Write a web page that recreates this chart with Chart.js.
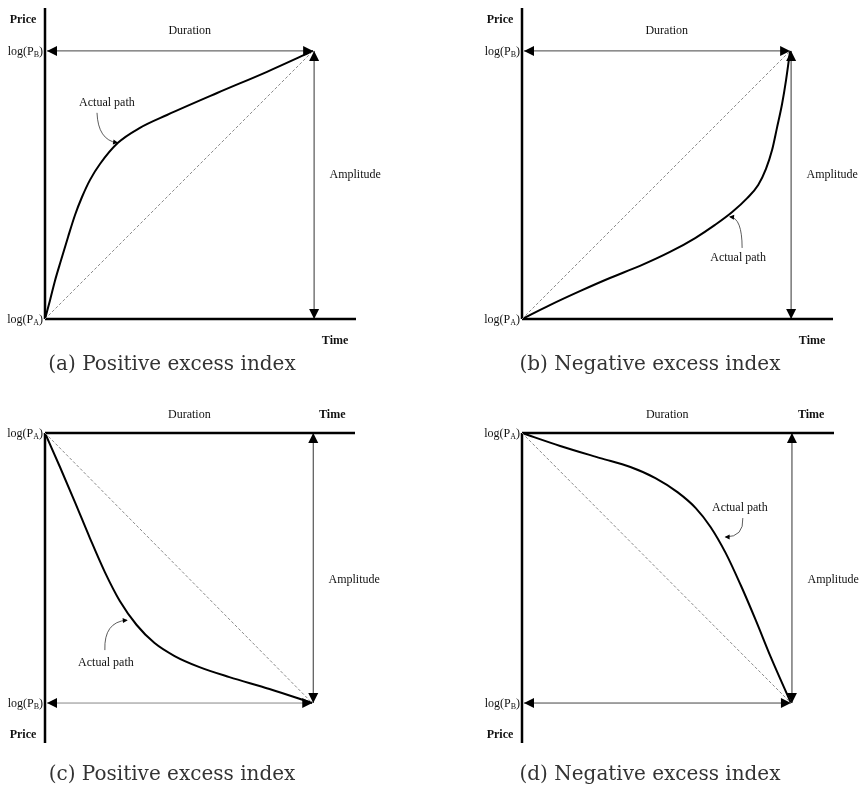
<!DOCTYPE html>
<html>
<head>
<meta charset="utf-8">
<script src="https://cdn.jsdelivr.net/npm/chart.js@4.4.1/dist/chart.umd.min.js"></script>
<style>
  html, body { margin: 0; padding: 0; background: #fff; }
  #wrap { position: relative; width: 864px; height: 787px; overflow: hidden; }
  .panel { position: absolute; }
  .caption {
    position: absolute; width: 340px; text-align: center;
    font-family: "DejaVu Serif", serif; font-size: 20px; line-height: 24px; color: #333;
  }
</style>
</head>
<body>
<div id="wrap"></div>
<script>
// Time (fraction of the duration) and log-price (fraction of the amplitude) along each actual path
const timeA  = [0, 0.019, 0.037, 0.06, 0.086, 0.112, 0.138, 0.168, 0.205, 0.272, 0.354, 0.455, 0.642, 0.828, 1];
const priceA = [0, 0.071, 0.142, 0.22, 0.306, 0.388, 0.455, 0.519, 0.578, 0.657, 0.713, 0.761, 0.843, 0.922, 1];

const timeB  = [0, 0.104, 0.216, 0.328, 0.44, 0.552, 0.646, 0.72, 0.784, 0.84, 0.881, 0.91, 0.933, 0.951, 0.97, 0.985, 1];
const priceB = [0, 0.052, 0.104, 0.153, 0.198, 0.25, 0.302, 0.351, 0.399, 0.451, 0.5, 0.56, 0.631, 0.713, 0.802, 0.892, 1];

const timeC  = [0, 0.056, 0.112, 0.168, 0.224, 0.28, 0.343, 0.41, 0.485, 0.578, 0.69, 0.84, 1];
const priceC = [1, 0.874, 0.744, 0.611, 0.485, 0.378, 0.289, 0.222, 0.174, 0.133, 0.096, 0.052, 0];

const timeD  = [0, 0.142, 0.291, 0.403, 0.496, 0.578, 0.646, 0.701, 0.757, 0.813, 0.869, 0.925, 1];
const priceD = [1, 0.952, 0.907, 0.874, 0.833, 0.781, 0.722, 0.652, 0.556, 0.437, 0.307, 0.17, 0];

// Text
const captions = ["(a) Positive excess index", "(b) Negative excess index",
                  "(c) Positive excess index", "(d) Negative excess index"];
const axisNames = { price: "Price", time: "Time" };
const spanNames = { duration: "Duration", amplitude: "Amplitude", path: "Actual path" };

// Layout of the four panels
const panels = [
  { time: timeA, price: priceA, caption: captions[0], dir: "up",
    left: 0, top: 0, w: 432, h: 390, pad: { left: 45, right: 76, top: 8, bottom: 71 },
    ymin: 0, ymax: 1.16, capX: 172, capY: 363, durColor: "#444",
    note: { text: [0.231, 0.806], from: [0.194, 0.769], ctrl: [0.198, 0.668], tip: [0.269, 0.657] } },
  { time: timeB, price: priceB, caption: captions[1], dir: "up",
    left: 432, top: 0, w: 432, h: 390, pad: { left: 90, right: 31, top: 8, bottom: 71 },
    ymin: 0, ymax: 1.16, capX: 218, capY: 363, durColor: "#444",
    note: { text: [0.806, 0.228], from: [0.821, 0.265], ctrl: [0.821, 0.377], tip: [0.776, 0.381] } },
  { time: timeC, price: priceC, caption: captions[2], dir: "down",
    left: 0, top: 390, w: 432, h: 397, pad: { left: 45, right: 77, top: 43, bottom: 44 },
    ymin: -0.148, ymax: 1, capX: 172, capY: 383, durColor: "#888",
    note: { text: [0.228, 0.148], from: [0.224, 0.196], ctrl: [0.22, 0.3], tip: [0.306, 0.307] } },
  { time: timeD, price: priceD, caption: captions[3], dir: "down",
    left: 432, top: 390, w: 432, h: 397, pad: { left: 90, right: 30, top: 43, bottom: 44 },
    ymin: -0.148, ymax: 1, capX: 218, capY: 383, durColor: "#444",
    note: { text: [0.81, 0.722], from: [0.821, 0.685], ctrl: [0.825, 0.615], tip: [0.757, 0.615] } }
];

const SERIF = '"Liberation Serif", "Times New Roman", serif';

function head(ctx, x, y, ang, len, half) {
  ctx.save();
  ctx.translate(x, y);
  ctx.rotate(ang);
  ctx.beginPath();
  ctx.moveTo(0, 0);
  ctx.lineTo(-len, -half);
  ctx.lineTo(-len, half);
  ctx.closePath();
  ctx.fill();
  ctx.restore();
}

function seg(ctx, x1, y1, x2, y2) {
  ctx.beginPath();
  ctx.moveTo(x1, y1);
  ctx.lineTo(x2, y2);
  ctx.stroke();
}

// "log(P" + subscript + ")" right-aligned at xr, centred on y
function logLabel(ctx, sub, xr, y) {
  ctx.save();
  ctx.textBaseline = "alphabetic";
  ctx.textAlign = "left";
  ctx.font = "12px " + SERIF;
  const a = ctx.measureText("log(P").width;
  const c = ctx.measureText(")").width;
  ctx.font = "8px " + SERIF;
  const b = ctx.measureText(sub).width;
  let x = xr - (a + b + c);
  const base = y + 4;
  ctx.font = "12px " + SERIF;
  ctx.fillText("log(P", x, base);
  ctx.font = "8px " + SERIF;
  ctx.fillText(sub, x + a, base + 2);
  ctx.font = "12px " + SERIF;
  ctx.fillText(")", x + a + b, base);
  ctx.restore();
}

const diagram = {
  id: "excessDiagram",
  beforeDatasetsDraw(chart, args, o) {
    const ctx = chart.ctx, area = chart.chartArea;
    const X = chart.scales.x, Y = chart.scales.y;
    const x0 = X.getPixelForValue(0), x1 = X.getPixelForValue(1);
    const yA = Y.getPixelForValue(o.levelA), yB = Y.getPixelForValue(o.levelB);
    ctx.save();
    ctx.lineWidth = 1;
    // Duration span
    ctx.strokeStyle = o.durColor;
    seg(ctx, x0 + 2, yB, x1 - 4, yB);
    // Amplitude span
    ctx.strokeStyle = "#333";
    seg(ctx, x1 + 1, yA, x1 + 1, yB);
    // Price and time axes
    ctx.strokeStyle = "#000";
    ctx.lineWidth = 2.5;
    seg(ctx, x0, area.top, x0, area.bottom);
    seg(ctx, x0, yA, area.right, yA);
    ctx.restore();
  },
  afterDatasetsDraw(chart, args, o) {
    const ctx = chart.ctx;
    const X = chart.scales.x, Y = chart.scales.y;
    const P = (t, p) => [X.getPixelForValue(t), Y.getPixelForValue(p)];
    const x0 = X.getPixelForValue(0), x1 = X.getPixelForValue(1);
    const yA = Y.getPixelForValue(o.levelA), yB = Y.getPixelForValue(o.levelB);
    const up = yB < yA;
    ctx.save();
    ctx.fillStyle = "#000";
    // arrow heads
    head(ctx, x0 + 2, yB, Math.PI, 10, 5);
    head(ctx, x1, yB, 0, 10, 5);
    head(ctx, x1 + 1, yB, up ? -Math.PI / 2 : Math.PI / 2, 10, 5);
    head(ctx, x1 + 1, yA, up ? Math.PI / 2 : -Math.PI / 2, 10, 5);

    // text
    ctx.fillStyle = "#111";
    ctx.textAlign = "center";
    ctx.textBaseline = "middle";
    ctx.font = "12px " + SERIF;
    const durY = up ? yB - 20 : yA - 18;
    ctx.fillText(spanNames.duration, X.getPixelForValue(0.54), durY);
    const ampY = up ? Y.getPixelForValue(0.537) : Y.getPixelForValue(0.456);
    ctx.fillText(spanNames.amplitude, X.getPixelForValue(1.157), ampY);

    ctx.font = "bold 12px " + SERIF;
    if (up) {
      ctx.fillText(axisNames.price, x0 - 22, chart.chartArea.top + 12);
      ctx.fillText(axisNames.time, X.getPixelForValue(1.082), yA + 22);
    } else {
      ctx.fillText(axisNames.price, x0 - 22, chart.chartArea.bottom - 8);
      ctx.fillText(axisNames.time, X.getPixelForValue(1.075), yA - 18);
    }
    logLabel(ctx, "A", x0 - 2, yA);
    logLabel(ctx, "B", x0 - 2, yB);

    // "Actual path" pointer
    const n = o.note;
    const t = P(n.text[0], n.text[1]);
    ctx.font = "12px " + SERIF;
    ctx.fillText(spanNames.path, t[0], t[1]);
    const f = P(n.from[0], n.from[1]), c = P(n.ctrl[0], n.ctrl[1]), e = P(n.tip[0], n.tip[1]);
    ctx.strokeStyle = "#333";
    ctx.lineWidth = 0.8;
    ctx.beginPath();
    ctx.moveTo(f[0], f[1]);
    ctx.quadraticCurveTo(c[0], c[1], e[0], e[1]);
    ctx.stroke();
    ctx.fillStyle = "#000";
    head(ctx, e[0] + 1 * Math.sign(e[0] - c[0]), e[1], Math.atan2(e[1] - c[1], e[0] - c[0]), 5, 2.5);
    ctx.restore();
  }
};

const wrap = document.getElementById("wrap");

panels.forEach((pn) => {
  const box = document.createElement("div");
  box.className = "panel";
  box.style.left = pn.left + "px";
  box.style.top = pn.top + "px";
  box.style.width = pn.w + "px";
  box.style.height = pn.h + "px";
  const cv = document.createElement("canvas");
  cv.width = pn.w;
  cv.height = pn.h;
  cv.style.width = pn.w + "px";
  cv.style.height = pn.h + "px";
  box.appendChild(cv);
  const cap = document.createElement("div");
  cap.className = "caption";
  cap.textContent = pn.caption;
  cap.style.left = (pn.capX - 170) + "px";
  cap.style.top = (pn.capY - 12) + "px";
  box.appendChild(cap);
  wrap.appendChild(box);

  const path = pn.time.map((t, i) => ({ x: t, y: pn.price[i] }));
  const last = pn.price.length - 1;
  const straight = [{ x: pn.time[0], y: pn.price[0] }, { x: pn.time[last], y: pn.price[last] }];

  new Chart(cv, {
    type: "scatter",
    data: {
      datasets: [
        { data: straight, showLine: true, borderColor: "#8a8a8a", borderWidth: 1,
          borderDash: [3, 2], pointRadius: 0, clip: false },
        { data: path, showLine: true, borderColor: "#000", borderWidth: 2,
          cubicInterpolationMode: "monotone", pointRadius: 0, clip: false }
      ]
    },
    options: {
      responsive: false,
      animation: false,
      devicePixelRatio: 1,
      layout: { padding: pn.pad },
      scales: {
        x: { type: "linear", min: 0, max: 1.16, display: false },
        y: { type: "linear", min: pn.ymin, max: pn.ymax, display: false }
      },
      plugins: {
        legend: { display: false },
        tooltip: { enabled: false },
        excessDiagram: { levelA: pn.price[0], levelB: pn.price[last], durColor: pn.durColor, note: pn.note }
      }
    },
    plugins: [diagram]
  });
});
</script>
</body>
</html>
